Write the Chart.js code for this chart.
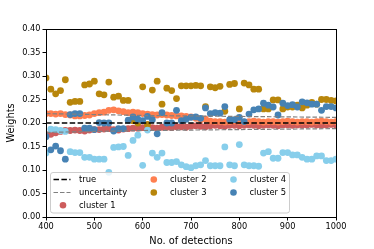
<!DOCTYPE html>
<html>
<head>
<meta charset="utf-8">
<script src="https://cdn.jsdelivr.net/npm/chart.js@4.4.0/dist/chart.umd.min.js"></script>
<style>
  body { margin: 0; background: #fff; }
</style>
</head>
<body>
<canvas id="myChart" width="374" height="249"></canvas>
<script>
// number of detections (x values of every point)
const detections = [400, 410, 420, 430, 440, 450, 460, 470, 480, 490,
  500, 510, 520, 530, 540, 550, 560, 570, 580, 590,
  600, 610, 620, 630, 640, 650, 660, 670, 680, 690,
  700, 710, 720, 730, 740, 750, 760, 770, 780, 790,
  800, 810, 820, 830, 840, 850, 860, 870, 880, 890,
  900, 910, 920, 930, 940, 950, 960, 970, 980, 990, 1000];

const cluster1 = [0.175, 0.176, 0.179, 0.182, 0.184, 0.184, 0.185, 0.184, 0.183, 0.185,
  0.186, 0.186, 0.187, 0.188, 0.186, 0.185, 0.187, 0.188, 0.189, 0.189,
  0.190, 0.190, 0.190, 0.189, 0.191, 0.191, 0.190, 0.192, 0.192, 0.191,
  0.193, 0.194, 0.193, 0.192, 0.194, 0.195, 0.194, 0.193, 0.195, 0.195,
  0.194, 0.195, 0.196, 0.195, 0.194, 0.195, 0.196, 0.195, 0.194, 0.196,
  0.196, 0.195, 0.196, 0.195, 0.196, 0.197, 0.196, 0.195, 0.196, 0.197, 0.196];

const cluster2 = [0.220, 0.220, 0.219, 0.220, 0.218, 0.217, 0.215, 0.215, 0.216, 0.217,
  0.220, 0.222, 0.223, 0.227, 0.228, 0.226, 0.224, 0.222, 0.223, 0.222,
  0.220, 0.219, 0.218, 0.217, 0.218, 0.217, 0.216, 0.215, 0.215, 0.214,
  0.213, 0.210, 0.207, 0.208, 0.204, 0.203, 0.203, 0.202, 0.203, 0.204,
  0.203, 0.202, 0.203, 0.204, 0.203, 0.202, 0.203, 0.203, 0.202, 0.203,
  0.204, 0.203, 0.202, 0.203, 0.203, 0.202, 0.203, 0.204, 0.203, 0.202, 0.203];

const cluster3 = [0.296, 0.272, 0.262, 0.269, 0.292, 0.244, 0.246, 0.246, 0.281, 0.283,
  0.289, 0.262, 0.260, 0.287, 0.255, 0.257, 0.248, 0.248, 0.205, 0.200,
  0.277, 0.197, 0.270, 0.289, 0.240, 0.274, 0.269, 0.252, 0.279, 0.279,
  0.279, 0.280, 0.279, 0.235, 0.277, 0.275, 0.278, 0.225, 0.282, 0.284,
  0.230, 0.285, 0.281, 0.272, 0.272, 0.230, 0.230, 0.249, 0.249, 0.230,
  0.234, 0.234, 0.238, 0.232, 0.238, 0.244, 0.240, 0.250, 0.250, 0.248, 0.247];

const cluster4 = [0.136, 0.187, 0.186, 0.184, 0.182, 0.139, 0.137, 0.137, 0.127, 0.127,
  0.123, 0.123, 0.123, 0.095, 0.148, 0.149, 0.150, 0.131, 0.163, 0.174,
  0.110, 0.185, 0.136, 0.127, 0.136, 0.116, 0.116, 0.118, 0.111, 0.107,
  0.105, 0.109, 0.111, 0.120, 0.109, 0.109, 0.109, 0.149, 0.111, 0.109,
  0.154, 0.111, 0.109, 0.109, 0.108, 0.136, 0.139, 0.125, 0.125, 0.137,
  0.137, 0.132, 0.132, 0.127, 0.123, 0.123, 0.130, 0.130, 0.120, 0.120, 0.123];

const cluster5 = [0.171, 0.143, 0.151, 0.141, 0.123, 0.218, 0.220, 0.220, 0.189, 0.189,
  0.186, 0.201, 0.200, 0.200, 0.183, 0.188, 0.188, 0.206, 0.213, 0.208,
  0.205, 0.214, 0.207, 0.177, 0.222, 0.200, 0.200, 0.227, 0.205, 0.208,
  0.212, 0.213, 0.210, 0.232, 0.220, 0.222, 0.221, 0.235, 0.207, 0.207,
  0.212, 0.203, 0.219, 0.228, 0.230, 0.242, 0.238, 0.234, 0.217, 0.242,
  0.237, 0.239, 0.234, 0.245, 0.243, 0.240, 0.240, 0.227, 0.235, 0.235, 0.232];

// reference lines
const line_x = [400, 500, 600, 700, 800, 900, 1000];
const true_weight = [0.200, 0.200, 0.200, 0.200, 0.200, 0.200, 0.200];
const uncertainty_upper = [0.220, 0.218, 0.216, 0.215, 0.214, 0.213, 0.212];
const uncertainty_lower = [0.180, 0.182, 0.184, 0.185, 0.186, 0.187, 0.188];

const x_ticks = [400, 500, 600, 700, 800, 900, 1000];

const cluster_names = ['cluster 1', 'cluster 2', 'cluster 3', 'cluster 4', 'cluster 5'];
const cluster_values = [cluster1, cluster2, cluster3, cluster4, cluster5];
const color = ['#cd5c5c', '#ff7f50', '#b8860b', '#87ceeb', '#4682b4'];

const FONT = "'DejaVu Sans', sans-serif";

function points(xs, ys) {
  return xs.map(function (x, i) { return {x: x, y: ys[i]}; });
}

var datasets = [];

// clusters as scatter, later clusters on top
for (var index = 0; index < cluster_values.length; index++) {
  datasets.push({
    label: cluster_names[index],
    data: points(detections, cluster_values[index]),
    backgroundColor: color[index],
    borderColor: color[index],
    borderWidth: 0,
    pointRadius: 3.4,
    pointHoverRadius: 3.4,
    showLine: false,
    order: 10 - index,
  });
}

// lines on top of points
datasets.push({
  label: 'uncertainty',
  data: points(line_x, uncertainty_upper),
  showLine: true, pointRadius: 0,
  borderColor: '#808080', borderWidth: 1.2, borderDash: [4.5, 2],
  order: 2,
});
datasets.push({
  label: 'uncertainty_low',
  data: points(line_x, uncertainty_lower),
  showLine: true, pointRadius: 0,
  borderColor: '#808080', borderWidth: 1.2, borderDash: [4.5, 2],
  order: 2,
});
datasets.push({
  label: 'true',
  data: points(line_x, true_weight),
  showLine: true, pointRadius: 0,
  borderColor: '#000000', borderWidth: 1.5, borderDash: [5.5, 2.4],
  order: 1,
});

// frame + legend inside the axes (matplotlib style)
const frameLegend = {
  id: 'frameLegend',
  afterDraw: function (chart) {
    var ctx = chart.ctx;
    var a = chart.chartArea;
    ctx.save();
    ctx.strokeStyle = '#000';
    ctx.lineWidth = 1;
    ctx.strokeRect(a.left + 0.5, a.top + 0.5, a.right - a.left, a.bottom - a.top);

    // legend box
    var bx = a.left + 4.5, by = a.bottom - 44.5, bw = 239, bh = 40.5;
    ctx.beginPath();
    ctx.roundRect(bx, by, bw, bh, 2.5);
    ctx.fillStyle = 'rgba(255,255,255,0.8)';
    ctx.fill();
    ctx.strokeStyle = '#cccccc';
    ctx.stroke();

    ctx.font = '8.4px ' + FONT;
    ctx.textBaseline = 'middle';
    ctx.textAlign = 'left';
    var rows = [by + 7, by + 20, by + 32.8];

    // column 1
    ctx.lineWidth = 1.5;
    ctx.strokeStyle = '#000';
    ctx.setLineDash([5.5, 2.4]);
    ctx.beginPath(); ctx.moveTo(bx + 3, rows[0]); ctx.lineTo(bx + 20, rows[0]); ctx.stroke();
    ctx.lineWidth = 1.2;
    ctx.strokeStyle = '#808080';
    ctx.setLineDash([4.5, 2]);
    ctx.beginPath(); ctx.moveTo(bx + 3, rows[1]); ctx.lineTo(bx + 20, rows[1]); ctx.stroke();
    ctx.setLineDash([]);

    var items = [
      {txt: 'true', col: 0, row: 0},
      {txt: 'uncertainty', col: 0, row: 1},
      {txt: 'cluster 1', col: 0, row: 2, c: color[0]},
      {txt: 'cluster 2', col: 1, row: 0, c: color[1]},
      {txt: 'cluster 3', col: 1, row: 1, c: color[2]},
      {txt: 'cluster 4', col: 2, row: 0, c: color[3]},
      {txt: 'cluster 5', col: 2, row: 1, c: color[4]},
    ];
    var colMarker = [bx + 12.5, bx + 103.3, bx + 183];
    var colText = [bx + 28.5, bx + 119.5, bx + 199];
    items.forEach(function (it) {
      var y = rows[it.row];
      if (it.c) {
        ctx.fillStyle = it.c;
        ctx.beginPath();
        ctx.arc(colMarker[it.col], y, 3.3, 0, Math.PI * 2);
        ctx.fill();
      }
      ctx.fillStyle = '#000';
      ctx.fillText(it.txt, colText[it.col], y + 0.5);
    });
    ctx.restore();
  }
};

var config = {
  type: 'scatter',
  data: {datasets: datasets},
  options: {
    responsive: false,
    animation: false,
    events: [],
    layout: {padding: {top: 29, right: 38, left: 0, bottom: 0}},
    plugins: {legend: {display: false}, tooltip: {enabled: false}},
    scales: {
      x: {
        type: 'linear',
        min: 400, max: 1000,
        afterBuildTicks: function (scale) {
          scale.ticks = x_ticks.map(function (v) { return {value: v}; });
        },
        afterFit: function (scale) { scale.height = 32; },
        ticks: {color: '#000', font: {family: FONT, size: 8.2}, padding: 1, maxRotation: 0,
                callback: function (v) { return String(v); }},
        grid: {drawOnChartArea: false, drawTicks: true, tickLength: 3.5, color: '#000'},
        border: {color: '#000'},
        title: {display: true, text: 'No. of detections', color: '#000',
                font: {family: FONT, size: 9.8}, padding: {top: 1, bottom: 2}},
      },
      y: {
        type: 'linear',
        min: 0, max: 0.4,
        ticks: {stepSize: 0.05, color: '#000', font: {family: FONT, size: 8.2}, padding: 2,
                callback: function (v) { return v.toFixed(2); }},
        afterFit: function (scale) { scale.width = 46; },
        grid: {drawOnChartArea: false, drawTicks: true, tickLength: 3.5, color: '#000'},
        border: {color: '#000'},
        title: {display: true, text: 'Weights', color: '#000',
                font: {family: FONT, size: 9.8}, padding: {top: 6, bottom: 0}},
      },
    },
  },
  plugins: [frameLegend],
};

var ctx = document.getElementById('myChart');
var myChart = new Chart(ctx, config);
</script>
</body>
</html>
